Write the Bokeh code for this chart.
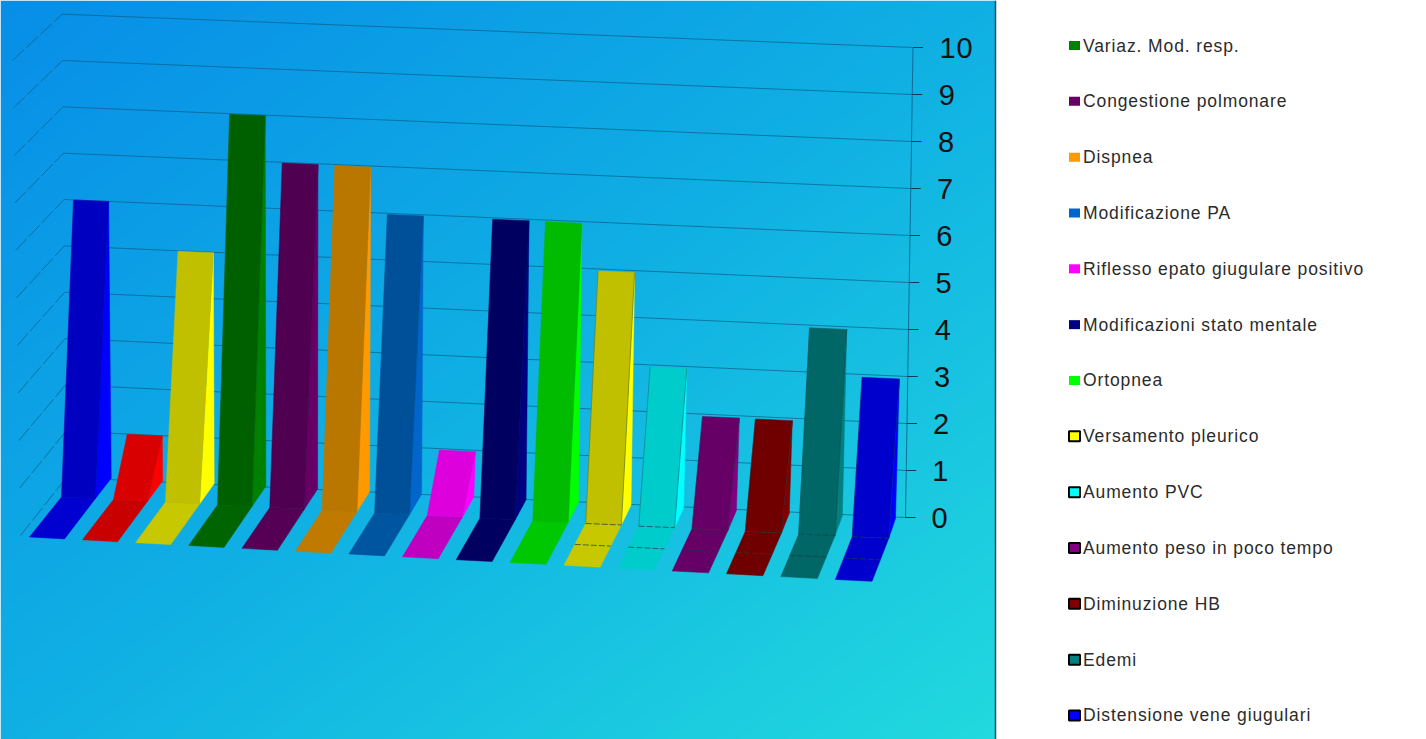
import numpy as np
from bokeh.embed import file_html
from bokeh.models import InlineStyleSheet, Range1d
from bokeh.plotting import figure
from bokeh.resources import INLINE
from bokeh.core.properties import value

# Count per symptom, left to right across the chart
series_values = [6, 1, 5, 8, 7, 7, 6, 1, 6, 6, 5, 3, 2, 2, 4, 3]

side_colors = ["#0000FF", "#FF0000", "#FFFF00", "#008000", "#660066", "#FF9900", "#0066CC", "#FF00FF",
               "#000080", "#00FF00", "#FFFF00", "#00FFFF", "#800080", "#800000", "#008080", "#0000FF"]
face_colors = ["#0000C0", "#D80000", "#C0C000", "#006000", "#500050", "#BA7700", "#005099", "#DD00DD",
               "#000060", "#00BB00", "#C0C000", "#00CCCC", "#660066", "#700000", "#006666", "#0000CC"]
floor_colors = ["#0000D0", "#C80000", "#C8C800", "#006400", "#550055", "#C07A00", "#0055A0", "#C000C0",
                "#000060", "#00C800", "#C8C800", "#00CCCC", "#660066", "#700000", "#006666", "#0000CC"]

# Bars whose floor strip is crossed by the floor grid
floor_grid_from = 10

axis_ticks = list(range(0, 11))

legend_labels = ["Variaz. Mod. resp.", "Congestione polmonare", "Dispnea", "Modificazione PA",
                 "Riflesso epato giugulare positivo", "Modificazioni stato mentale", "Ortopnea",
                 "Versamento pleurico", "Aumento PVC", "Aumento peso in poco tempo", "Diminuzione HB",
                 "Edemi", "Distensione vene giugulari"]
legend_colors = ["#008000", "#660066", "#FF9900", "#0066CC", "#FF00FF", "#000080", "#00FF00",
                 "#FFFF00", "#00FFFF", "#800080", "#800000", "#008080", "#0000FF"]
legend_outlined = [False] * 7 + [True] * 6

PANEL_W = 995
WIDTH, HEIGHT = 1426, 739


def lerp(a, b, t):
    return a + (b - a) * t


def wall_point(u, v):
    """Point on the back wall: u runs left to right (0..1), v is the axis value."""
    t = v / 10
    lx, ly = lerp(66.0, 61.7, t), lerp(477.0, 13.7, t)
    rx, ry = lerp(905.0, 912.5, t), lerp(517.0, 47.0, t)
    return lerp(lx, rx, u), lerp(ly, ry, u)


def side_wall_front(v):
    t = v / 10
    return lerp(20.0, 12.0, t), lerp(535.0, 60.0, t)


def bar_shape(i, v):
    """Projected corners of one column from its slot index and its value."""
    u0 = 0.0113 + 0.0623 * i + 0.0000533 * i * (i - 15)
    tlx, tly = wall_point(u0, v)
    trx, try_ = wall_point(u0 + 0.0415 + 0.00018 * i, v)
    tl = (tlx, tly + 3 * u0)
    tr = (trx, try_ + 3 * u0)
    ax, ay = 29 + 52.9 * i + 0.055 * i ** 2, 536.5 + 2.83 * i
    a = (ax, ay)
    b = (ax + 35 + 0.11 * i, ay + 1.9)
    c = (61 + 51.83 * i + 0.059 * i ** 2, 496.5 + 2.65 * i)
    d = (c[0] + 34 + 0.17 * i, c[1] + 1.5)
    e = (110.7 + 51.37 * i + 0.061 * i ** 2, 477.7 + 2.69 * i)
    return a, b, c, d, e, tl, tr


p = figure(width=WIDTH, height=HEIGHT, output_backend="svg", toolbar_location=None,
           x_range=Range1d(0, WIDTH), y_range=Range1d(HEIGHT, 0),
           min_border=0, outline_line_color=None, background_fill_color="white",
           border_fill_color="white")
p.axis.visible = False
p.grid.visible = False
# Slightly open tracking for all chart text
p.stylesheets = [InlineStyleSheet(css=":host { letter-spacing: 0.88px; }")]

# Diagonal blue-to-cyan panel fill
rows, cols = HEIGHT // 2, PANEL_W // 2
yy, xx = np.mgrid[0:rows, 0:cols]
t = (xx / cols + yy / rows) / 2
rgba = np.zeros((rows, cols, 4), dtype=np.uint8)
rgba[..., 0] = np.interp(t, [0, 0.5, 1], [8, 16, 34])
rgba[..., 1] = np.interp(t, [0, 0.5, 1], [142, 176, 218])
rgba[..., 2] = np.interp(t, [0, 0.5, 1], [232, 228, 222])
rgba[..., 3] = 255
view = rgba.view(dtype=np.uint32).reshape(rows, cols)
p.image_rgba(image=[view], x=0, y=0, dw=PANEL_W, dh=HEIGHT)
p.segment(x0=[PANEL_W], y0=[0], x1=[PANEL_W], y1=[HEIGHT], line_color="#1F4A5C", line_width=1.5)

GRID = "#0B5C85"
# Back wall and side wall gridlines
for v in axis_ticks:
    bx0, by0 = wall_point(0, v)
    bx1, by1 = wall_point(1, v)
    fx, fy = side_wall_front(v)
    p.line([bx0, bx1], [by0, by1], line_color=GRID, line_width=1, line_alpha=0.7)
    p.line([fx, bx0], [fy, by0], line_color=GRID, line_width=1, line_alpha=0.7, line_dash="16 3")

# Value axis on the right edge of the wall
ax0, ay0 = wall_point(1, 0)
ax1, ay1 = wall_point(1, 10)
p.line([ax0, ax1], [ay0, ay1], line_color=GRID, line_width=1, line_alpha=0.8)
for v in axis_ticks:
    x, y = wall_point(1, v)
    p.line([x, x + 10], [y, y], line_color="#123A4E", line_width=1)
    p.text(x=[931 + 0.8 * v], y=[y], text=[str(v)], text_font=value("Liberation Sans"),
           text_font_size="29px", text_color="#111111", text_baseline="middle", text_align="left")

# Columns, left to right so nearer slots stay on top
for i, v in enumerate(series_values):
    a, b, c, d, e, tl, tr = bar_shape(i, v)
    p.patch([a[0], b[0], d[0], c[0]], [a[1], b[1], d[1], c[1]],
            fill_color=floor_colors[i], line_color=floor_colors[i], line_width=0.5)
    p.patch([d[0], e[0], tr[0]], [d[1], e[1], tr[1]],
            fill_color=side_colors[i], line_color=side_colors[i], line_width=0.5)
    p.patch([tl[0], tr[0], d[0], c[0]], [tl[1], tr[1], d[1], c[1]],
            fill_color=face_colors[i], line_color=face_colors[i], line_width=0.5)
    if i >= floor_grid_from:
        mid_l = (lerp(a[0], c[0], 0.5), lerp(a[1], c[1], 0.5))
        mid_r = (lerp(b[0], d[0], 0.5), lerp(b[1], d[1], 0.5))
        p.line([c[0], d[0]], [c[1], d[1]], line_color="#1E3A40", line_width=1, line_alpha=0.7, line_dash="6 2")
        p.line([mid_l[0], mid_r[0]], [mid_l[1], mid_r[1]], line_color="#1E3A40", line_width=1,
               line_alpha=0.7, line_dash="6 2")
        # Thin dark edges on the nearer columns
        p.line([tl[0], c[0]], [tl[1], c[1]], line_color="#1E3A40", line_width=1, line_alpha=0.35)
        p.line([tr[0], d[0]], [tr[1], d[1]], line_color="#1E3A40", line_width=1, line_alpha=0.35)

# Legend column on the white strip
for k, (label, color, outlined) in enumerate(zip(legend_labels, legend_colors, legend_outlined)):
    y = 45 + 55.83 * k
    if outlined:
        p.rect(x=[1074], y=[y], width=11, height=10, fill_color=color, line_color="black", line_width=2)
    else:
        p.rect(x=[1074], y=[y], width=11, height=9, fill_color=color, line_color=None)
    p.text(x=[1082.5], y=[y], text=[label], text_font=value("Liberation Sans"), text_font_size="17.5px",
           text_color="#2B2B2B", text_baseline="middle", text_align="left")

open("out.html", "w").write(file_html(p, INLINE))
